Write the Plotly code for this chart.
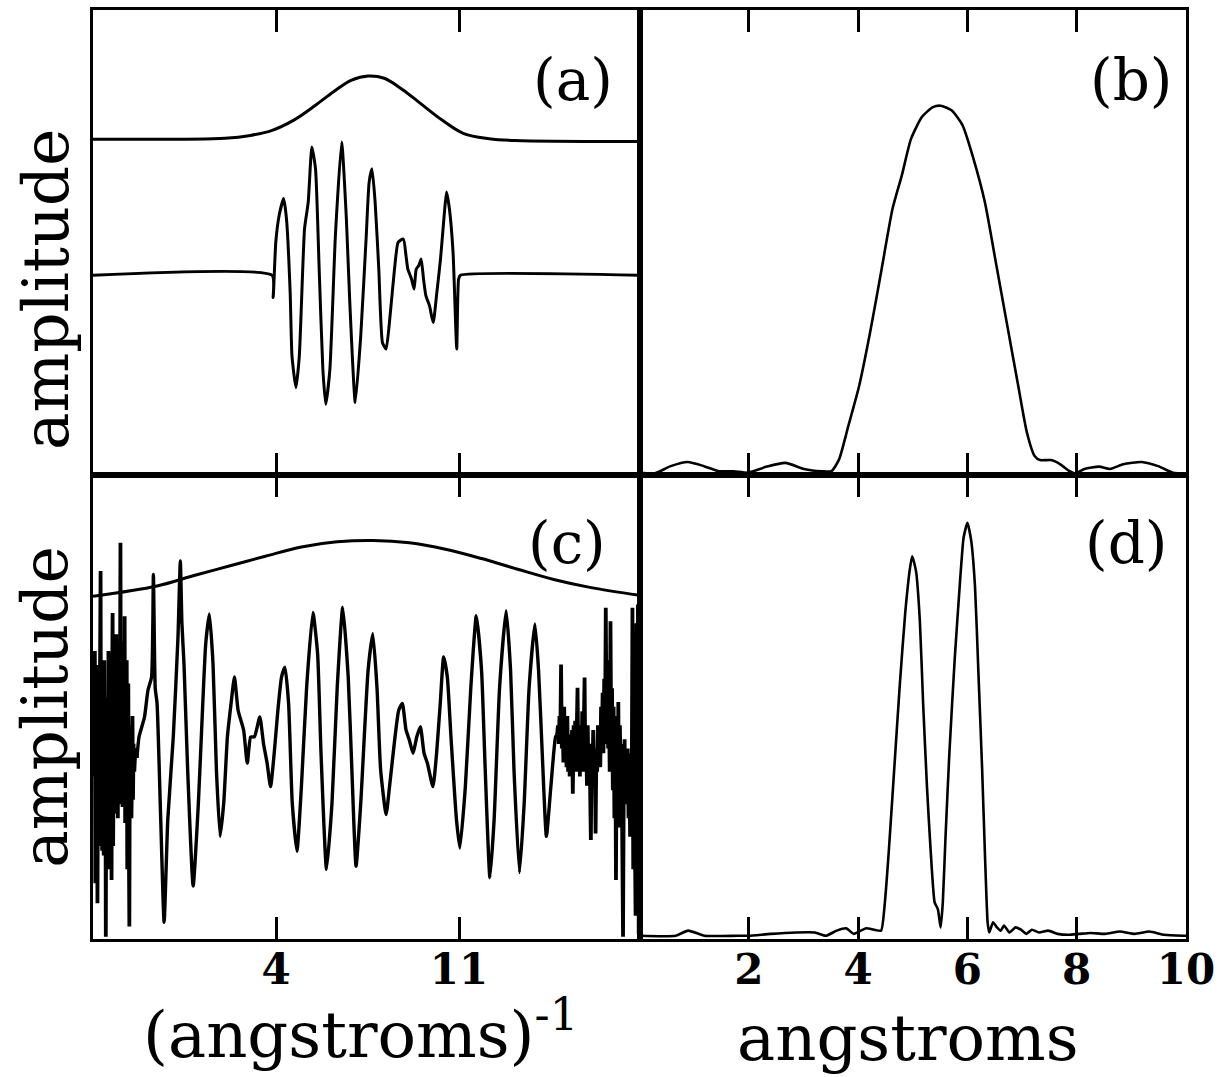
import plotly.graph_objects as go
from plotly.subplots import make_subplots

# ---------------- data ----------------
# panel (a): window envelope and windowed signal, x in (angstroms)^-1
a_env_x = [-3.0, 2.05, 3.02, 3.85, 4.68, 5.51, 6.2, 6.89, 7.52, 8.14, 8.83, 9.52, 10.35, 11.18, 12.15, 13.13, 17.9]
a_env_y = [7.22, 7.24, 7.30, 7.41, 7.63, 7.95, 8.24, 8.49, 8.58, 8.53, 8.29, 7.99, 7.63, 7.34, 7.23, 7.19, 7.17]

a_sig_x = [-3.0, 3.85, 3.89, 3.99, 4.12, 4.29, 4.40, 4.54, 4.61, 4.76, 4.89, 5.09, 5.23, 5.37, 5.51,
           5.65, 5.79, 5.90, 6.06, 6.27, 6.51, 6.69, 6.82, 7.03, 7.24, 7.45, 7.56, 7.67, 7.79, 7.93,
           8.07, 8.21, 8.35, 8.53, 8.67, 8.87, 8.97, 9.04, 9.18, 9.28, 9.36, 9.46, 9.55, 9.64, 9.73,
           9.87, 10.01, 10.15, 10.29, 10.43, 10.52, 10.63, 10.77, 10.91, 10.98, 11.05, 17.9]
a_sig_y = [4.29, 4.29, 3.81, 5.0, 5.58, 5.94, 5.50, 3.92, 2.55, 1.87, 2.55, 5.29, 5.86, 7.05, 6.58,
           4.42, 2.27, 1.51, 2.27, 5.14, 7.16, 5.50, 3.71, 1.55, 2.99, 5.14, 6.29, 6.58, 5.86, 4.42,
           2.84, 2.70, 3.35, 4.42, 5.0, 5.07, 4.71, 4.42, 4.21, 3.99, 4.42, 4.50, 4.64, 4.21, 3.85,
           3.63, 3.27, 3.92, 4.64, 5.58, 6.08, 5.72, 4.78, 2.70, 4.2, 4.29, 4.29]

# panel (b): transform of (a), x in angstroms
b_x = [0, 0.27, 0.57, 0.88, 1.18, 1.45, 1.72, 1.99, 2.33, 2.67, 3.01, 3.34, 3.51, 3.65, 3.82, 4.02,
       4.22, 4.43, 4.63, 4.80, 4.97, 5.17, 5.37, 5.51, 5.71, 5.91, 6.11, 6.32, 6.52, 6.72, 6.93, 7.09,
       7.23, 7.33, 7.53, 7.70, 7.87, 7.97, 8.14, 8.41, 8.61, 8.85, 9.19, 9.49, 9.76, 10]
b_y = [0.04, 0.02, 0.18, 0.27, 0.18, 0.07, 0.07, 0.04, 0.17, 0.25, 0.12, 0.07, 0.07, 0.32, 1.04, 1.91,
       3.06, 4.42, 5.72, 6.44, 7.23, 7.70, 7.91, 7.94, 7.84, 7.52, 6.80, 5.86, 4.57, 3.27, 1.91, 0.90,
       0.40, 0.31, 0.31, 0.22, 0.07, 0.02, 0.12, 0.17, 0.12, 0.22, 0.27, 0.18, 0.04, 0.02]

# panel (c): wide envelope and full signal (noisy left end, oscillating middle, noisy right end)
c_env_x = [-3.0, -0.55, 0.83, 2.21, 3.59, 4.97, 6.34, 7.72, 9.10, 10.48, 11.86, 13.24, 14.62, 16.0, 17.9]
c_env_y = [7.38, 7.60, 7.82, 8.03, 8.24, 8.44, 8.55, 8.58, 8.53, 8.39, 8.19, 7.96, 7.74, 7.57, 7.40]

c_left_x = [-2.95, -2.93, -2.91, -2.89, -2.87, -2.85, -2.83, -2.81, -2.79, -2.77, -2.75, -2.73, -2.71,
            -2.69, -2.67, -2.65, -2.63, -2.61, -2.59, -2.57, -2.55, -2.53, -2.51, -2.49, -2.47, -2.45,
            -2.43, -2.41, -2.39, -2.37, -2.35, -2.33, -2.31, -2.29, -2.27, -2.25, -2.23, -2.21, -2.19,
            -2.17, -2.15, -2.13, -2.11, -2.09, -2.07, -2.05, -2.03, -2.01, -1.99, -1.97, -1.95, -1.93,
            -1.91, -1.89, -1.87, -1.85, -1.83, -1.81, -1.79, -1.77, -1.75, -1.73, -1.71, -1.69, -1.67,
            -1.65, -1.63, -1.61, -1.59, -1.57, -1.55, -1.53, -1.51, -1.49, -1.47, -1.45, -1.42, -1.38,
            -1.32]
c_left_y = [3.5, 6.2, 1.2, 5.1, 2.6, 5.8, 0.77, 4.4, 5.9, 2.0,
            6.1, 3.1, 7.92, 2.5, 4.8, 1.9, 5.6, 2.9, 1.8, 6.0,
            3.3, 5.2, 0.05, 4.6, 2.4, 5.2, 1.5, 6.2, 3.0, 4.5,
            2.2, 5.8, 2.6, 1.27, 5.4, 7.02, 2.0, 4.2, 6.0, 3.2,
            5.0, 2.7, 6.56, 3.4, 5.5, 2.6, 6.3, 3.8, 2.9, 5.1,
            8.53, 3.0, 4.9, 6.1, 2.84, 4.4, 6.4, 3.3, 6.95, 2.5,
            5.2, 3.6, 6.0, 1.5, 4.8, 5.5, 2.2, 0.27, 4.6, 3.1,
            4.5, 2.6, 3.5, 4.8, 3.0, 4.2, 3.6, 4.1, 3.9]

c_mid_x = [-1.32, -1.24, -1.03, -0.90, -0.76, -0.69, -0.62, -0.55, -0.41, -0.28, -0.14, 0.07, 0.25, 0.34,
           0.40, 0.48, 0.62, 0.83, 1.03, 1.17, 1.31, 1.45, 1.59, 1.72, 1.86, 2.0, 2.14, 2.28, 2.41,
           2.55, 2.76, 2.90, 3.03, 3.17, 3.38, 3.52, 3.66, 3.79, 3.93, 4.07, 4.21, 4.34, 4.48, 4.62,
           4.80, 4.97, 5.17, 5.41, 5.59, 5.72, 5.93, 6.14, 6.34, 6.55, 6.76, 6.90, 7.06, 7.24, 7.52,
           7.70, 7.86, 8.0, 8.21, 8.34, 8.55, 8.69, 8.83, 8.97, 9.10, 9.24, 9.38, 9.52, 9.66, 9.79,
           10.0, 10.14, 10.28, 10.41, 10.55, 10.69, 10.90, 11.03, 11.24, 11.45, 11.66, 11.86, 12.0,
           12.18, 12.34, 12.55, 12.80, 12.97, 13.10, 13.31, 13.49, 13.68, 13.90, 14.04, 14.18, 14.34,
           14.51, 14.69, 14.75]
c_mid_y = [3.9, 4.35, 4.78, 5.35, 5.64, 7.85, 5.4, 5.07, 2.57, 0.36, 2.57, 4.35, 6.5, 8.14,
           6.8, 5.92, 3.64, 1.14, 2.93, 4.71, 6.35, 7.0, 5.92, 3.64, 2.21, 2.93, 4.35, 5.07, 5.64,
           4.92, 4.50, 3.78, 4.35, 4.35, 4.78, 4.21, 3.78, 3.28, 4.0, 4.92, 5.64, 5.85, 5.07, 2.93,
           1.89, 3.28, 5.42, 7.03, 6.14, 4.0, 1.50, 2.93, 5.42, 7.14, 5.64, 3.64, 1.57, 2.93, 5.78,
           6.57, 5.42, 3.64, 2.68, 3.28, 4.35, 4.92, 5.07, 4.50, 4.28, 4.0, 4.35, 4.57, 4.0, 3.78,
           3.28, 4.0, 5.07, 6.07, 5.64, 4.35, 2.57, 1.96, 3.28, 5.42, 6.96, 5.78, 3.64,
           1.32, 2.57, 5.42, 7.07, 5.78, 3.64, 1.43, 2.93, 5.42, 6.78, 5.78, 4.0, 2.21,
           3.28, 4.35, 4.4]

c_right_x = [14.75, 14.78, 14.81, 14.84, 14.87, 14.90, 14.93, 14.96, 14.99, 15.02, 15.05, 15.08, 15.11,
             15.14, 15.17, 15.20, 15.23, 15.26, 15.29, 15.32, 15.35, 15.38, 15.41, 15.44, 15.47, 15.50,
             15.53, 15.56, 15.59, 15.62, 15.65, 15.68, 15.71, 15.74, 15.77, 15.80, 15.83, 15.86, 15.89,
             15.92, 15.95, 15.98, 16.01, 16.04, 16.07, 16.10, 16.13, 16.16, 16.19, 16.22, 16.25, 16.28,
             16.31, 16.34, 16.37, 16.40, 16.43, 16.46, 16.49, 16.52, 16.55, 16.58, 16.61, 16.64, 16.67,
             16.70, 16.73, 16.76, 16.79, 16.82, 16.85, 16.88, 16.91, 16.94, 16.97, 17.00, 17.03, 17.06,
             17.09, 17.12, 17.15, 17.18, 17.21, 17.24, 17.27, 17.30, 17.33, 17.36, 17.39, 17.42, 17.45,
             17.48, 17.51, 17.54, 17.57, 17.60, 17.63, 17.66, 17.69, 17.72, 17.75, 17.78, 17.81, 17.84,
             17.87, 17.90]
c_right_y = [4.4, 4.6, 4.2, 4.8, 4.3, 5.91, 4.1, 4.7, 3.8, 5.0, 3.9, 4.6, 3.7,
             4.8, 3.6, 4.4, 3.5, 4.3, 3.8, 4.5, 3.13, 4.6, 3.9, 4.7, 3.6, 4.4,
             5.41, 3.8, 4.6, 3.5, 4.5, 3.7, 4.9, 3.6, 4.3, 5.63, 3.6, 4.4, 3.3,
             4.6, 3.5, 4.2, 3.3, 2.13, 4.2, 3.5, 4.5, 3.4, 4.1, 2.27, 4.0, 3.6,
             4.6, 3.8, 4.4, 3.7, 5.0, 4.2, 5.3, 4.0, 5.6, 4.2, 7.13, 4.6, 6.0,
             4.1, 5.2, 3.6, 6.84, 4.0, 5.4, 3.2, 5.0, 2.6, 4.8, 1.27, 4.5, 3.0,
             5.1, 2.4, 4.6, 3.5, 4.2, 1.8, 0.05, 3.6, 4.3, 2.9, 4.0, 3.3, 4.1,
             2.6, 4.0, 2.2, 3.8, 2.8, 7.13, 1.5, 6.5, 2.5, 0.5, 6.8, 1.2, 7.2,
             0.1, 6.0]

# panel (d): transform of (c), x in angstroms
d_x = [0, 0.66, 0.89, 1.19, 1.80, 2.0, 2.40, 2.87, 3.21, 3.41, 3.61, 3.78, 3.92, 4.05, 4.15, 4.29,
       4.42, 4.49, 4.56, 4.66, 4.76, 4.86, 4.95, 4.99, 5.06, 5.13, 5.19, 5.26, 5.33, 5.40, 5.46,
       5.51, 5.55, 5.60, 5.67, 5.77, 5.87, 5.93, 6.0, 6.07, 6.14, 6.20, 6.27, 6.32, 6.37, 6.40,
       6.47, 6.54, 6.61, 6.67, 6.77, 6.88, 6.98, 7.08, 7.18, 7.31, 7.48, 7.65, 7.85, 8.05, 8.25,
       8.52, 8.79, 9.06, 9.33, 9.60, 9.94, 10]
d_y = [0.07, 0.07, 0.18, 0.07, 0.07, 0.07, 0.11, 0.14, 0.14, 0.07, 0.18, 0.23, 0.11, 0.18, 0.23, 0.20,
       0.18, 0.79, 1.86, 3.64, 5.42, 6.99, 7.99, 8.24, 7.92, 6.85, 5.07, 3.28, 1.86, 0.79, 0.64,
       0.25, 0.79, 2.21, 4.0, 6.07, 7.78, 8.64, 8.96, 8.57, 7.57, 5.78, 3.64, 1.86, 0.36, 0.14,
       0.36, 0.25, 0.18, 0.29, 0.14, 0.25, 0.20, 0.11, 0.20, 0.14, 0.18, 0.11, 0.09, 0.11, 0.13,
       0.11, 0.16, 0.11, 0.16, 0.09, 0.07, 0.07]

left_ticks = [4, 11]
right_ticks = [2, 4, 6, 8, 10]
panel_labels = ["(a)", "(b)", "(c)", "(d)"]
x_titles = ["(angstroms)<sup>-1</sup>", "angstroms"]
y_title = "amplitude"

# ---------------- figure ----------------
W, H = 1226, 1077
ML, MR, MT, MB = 93, 40, 7, 138
PW, PH = W - ML - MR, H - MT - MB

fig = make_subplots(rows=2, cols=2, horizontal_spacing=0, vertical_spacing=0)

line = dict(color="black", width=3)
thick = dict(color="black", width=3.4)
noisy = dict(color="black", width=3.8)
thin = dict(color="black", width=2.6)

fig.add_trace(go.Scatter(x=a_env_x, y=a_env_y, mode="lines", line=dict(shape="spline", **line)), row=1, col=1)
fig.add_trace(go.Scatter(x=a_sig_x, y=a_sig_y, mode="lines", line=dict(shape="spline", smoothing=0.5, **line)), row=1, col=1)
fig.add_trace(go.Scatter(x=b_x, y=b_y, mode="lines", line=dict(shape="spline", smoothing=0.6, **thin)), row=1, col=2)
fig.add_trace(go.Scatter(x=c_env_x, y=c_env_y, mode="lines", line=dict(shape="spline", **line)), row=2, col=1)
fig.add_trace(go.Scatter(x=c_left_x, y=c_left_y, mode="lines", line=dict(shape="linear", **noisy)), row=2, col=1)
fig.add_trace(go.Scatter(x=c_mid_x, y=c_mid_y, mode="lines", line=dict(shape="spline", smoothing=0.5, **thick)), row=2, col=1)
fig.add_trace(go.Scatter(x=c_right_x, y=c_right_y, mode="lines", line=dict(shape="linear", **noisy)), row=2, col=1)
fig.add_trace(go.Scatter(x=d_x, y=d_y, mode="lines", line=dict(shape="spline", smoothing=0.5, **thin)), row=2, col=2)

tickfont = dict(family="DejaVu Serif", size=42, color="black", weight="bold")
common_x = dict(ticks="inside", ticklen=22, tickwidth=3, tickcolor="black",
                showline=True, linewidth=3, linecolor="black", mirror="ticks",
                showgrid=False, zeroline=False, tickfont=tickfont, ticklabelstandoff=-8)
common_y = dict(range=[0, 10], showticklabels=False, ticks="",
                showline=True, linewidth=3, linecolor="black", mirror=True,
                showgrid=False, zeroline=False)

for r in (1, 2):
    fig.update_xaxes(range=[-3, 17.9], tickvals=left_ticks, ticktext=[str(v) for v in left_ticks],
                     showticklabels=(r == 2), row=r, col=1, **common_x)
    fig.update_xaxes(range=[0, 10], tickvals=right_ticks, ticktext=[str(v) for v in right_ticks],
                     showticklabels=(r == 2), row=r, col=2, **common_x)
    for c in (1, 2):
        fig.update_yaxes(row=r, col=c, **common_y)

def px_x(p):
    return (p - ML) / PW

def px_y(p):
    return (H - MB - p) / PH

annotations = []
label_pos = [(573, 77), (1131, 77), (567, 542), (1126, 542)]
for text, (xp, yp) in zip(panel_labels, label_pos):
    annotations.append(dict(text=text, x=px_x(xp), y=px_y(yp), xref="paper", yref="paper",
                            showarrow=False, xanchor="center", yanchor="middle",
                            font=dict(family="DejaVu Serif", size=58, color="black")))
for text, xp, yp in zip(x_titles, (360, 908), (1030, 1038)):
    annotations.append(dict(text=text, x=px_x(xp), y=px_y(yp), xref="paper", yref="paper",
                            showarrow=False, xanchor="center", yanchor="middle",
                            font=dict(family="DejaVu Serif", size=64, color="black")))
for yp in (288, 707):
    annotations.append(dict(text=y_title, x=px_x(46), y=px_y(yp), xref="paper", yref="paper",
                            showarrow=False, xanchor="center", yanchor="middle", textangle=-90,
                            font=dict(family="DejaVu Serif", size=63, color="black")))

fig.update_layout(width=W, height=H, autosize=False,
                  margin=dict(l=ML, r=MR, t=MT, b=MB),
                  paper_bgcolor="white", plot_bgcolor="white",
                  showlegend=False, annotations=annotations)

fig.write_html("out.html")
